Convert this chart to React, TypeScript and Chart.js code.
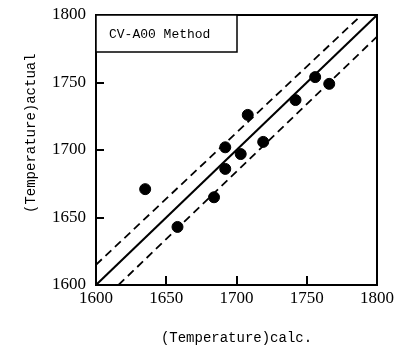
import React, { useEffect, useRef } from "react";
import { Chart, registerables } from "chart.js";

Chart.register(...registerables);

const xCalc = [1635, 1658, 1684, 1692, 1692, 1703, 1708, 1719, 1742, 1756, 1766];
const yActual = [1671, 1643, 1665, 1702, 1686, 1697, 1726, 1706, 1737, 1754, 1749];

const identityX = [1600, 1800];
const identityY = [1600, 1800];
const upperX = [1600, 1789];
const upperY = [1615, 1800];
const lowerX = [1616, 1800];
const lowerY = [1600, 1784];

const tickValues = [1600, 1650, 1700, 1750, 1800];
const innerTicks = [1650, 1700, 1750];
const methodLabel = "CV-A00 Method";
const xTitle = "(Temperature)calc.";
const yTitle = "(Temperature)actual";

const toPts = (xs: number[], ys: number[]) => xs.map((x, i) => ({ x, y: ys[i] }));

const framePlugin = {
  id: "frame",
  afterDraw(chart: any) {
    const ctx = chart.ctx;
    const { left, top, right, bottom } = chart.chartArea;
    const xs = chart.scales.x;
    const ys = chart.scales.y;
    ctx.save();
    ctx.setLineDash([]);
    ctx.strokeStyle = "#000";
    ctx.lineWidth = 2;
    ctx.strokeRect(left, top, right - left, bottom - top);
    ctx.fillStyle = "#000";
    innerTicks.forEach((v) => {
      const px = Math.round(xs.getPixelForValue(v));
      ctx.fillRect(px - 1, bottom - 9, 2, 9);
      const py = Math.round(ys.getPixelForValue(v));
      ctx.fillRect(left, py - 1, 8, 2);
    });
    // method label box
    ctx.fillStyle = "#fff";
    ctx.fillRect(left, top, 141, 37);
    ctx.lineWidth = 1.5;
    ctx.strokeRect(left, top, 141, 37);
    ctx.fillStyle = "#000";
    ctx.font = "13px 'Liberation Mono', monospace";
    ctx.textBaseline = "middle";
    ctx.textAlign = "left";
    ctx.fillText(methodLabel, left + 13, top + 20);
    ctx.restore();
  },
};

export default function App() {
  const ref = useRef<HTMLCanvasElement>(null);
  useEffect(() => {
    if (!ref.current) return;
    const tickFont = { family: "'Liberation Serif', serif", size: 17 };
    const titleFont = { family: "'Liberation Mono', monospace", size: 14 };
    const fmt = (v: any) => String(v);
    const chart = new Chart(ref.current, {
      type: "scatter",
      data: {
        datasets: [
          {
            data: toPts(identityX, identityY),
            showLine: true,
            borderColor: "#000",
            borderWidth: 2,
            pointRadius: 0,
          },
          {
            data: toPts(upperX, upperY),
            showLine: true,
            borderColor: "#000",
            borderWidth: 1.8,
            borderDash: [8, 5],
            pointRadius: 0,
          },
          {
            data: toPts(lowerX, lowerY),
            showLine: true,
            borderColor: "#000",
            borderWidth: 1.8,
            borderDash: [8, 5],
            pointRadius: 0,
          },
          {
            data: toPts(xCalc, yActual),
            showLine: false,
            backgroundColor: "#000",
            borderColor: "#000",
            pointRadius: 5.5,
          },
        ],
      },
      options: {
        animation: false,
        responsive: false,
        layout: { padding: { left: 0, right: 19, top: 15, bottom: 0 } },
        plugins: { legend: { display: false }, tooltip: { enabled: false } },
        scales: {
          x: {
            type: "linear",
            min: 1600,
            max: 1800,
            afterBuildTicks: (s: any) => {
              s.ticks = tickValues.map((v) => ({ value: v }));
            },
            ticks: { font: tickFont, color: "#000", padding: -5, callback: fmt },
            grid: { display: false },
            border: { display: false },
            title: {
              display: true,
              text: xTitle,
              font: titleFont,
              color: "#000",
              padding: { top: 10, bottom: 0 },
            },
            afterFit: (s: any) => {
              s.height = 62;
            },
          },
          y: {
            type: "linear",
            min: 1600,
            max: 1800,
            afterBuildTicks: (s: any) => {
              s.ticks = tickValues.map((v) => ({ value: v }));
            },
            ticks: { font: tickFont, color: "#000", padding: 2, callback: fmt },
            grid: { display: false },
            border: { display: false },
            title: {
              display: true,
              text: "    " + yTitle,
              font: titleFont,
              color: "#000",
              padding: { top: 23, bottom: 0 },
            },
            afterFit: (s: any) => {
              s.width = 96;
            },
          },
        },
      },
      plugins: [framePlugin],
    });
    return () => chart.destroy();
  }, []);
  return (
    <div style={{ position: "absolute", left: 0, top: 0, width: 396, height: 347, background: "#fff" }}>
      <canvas ref={ref} width={396} height={347} />
    </div>
  );
}
